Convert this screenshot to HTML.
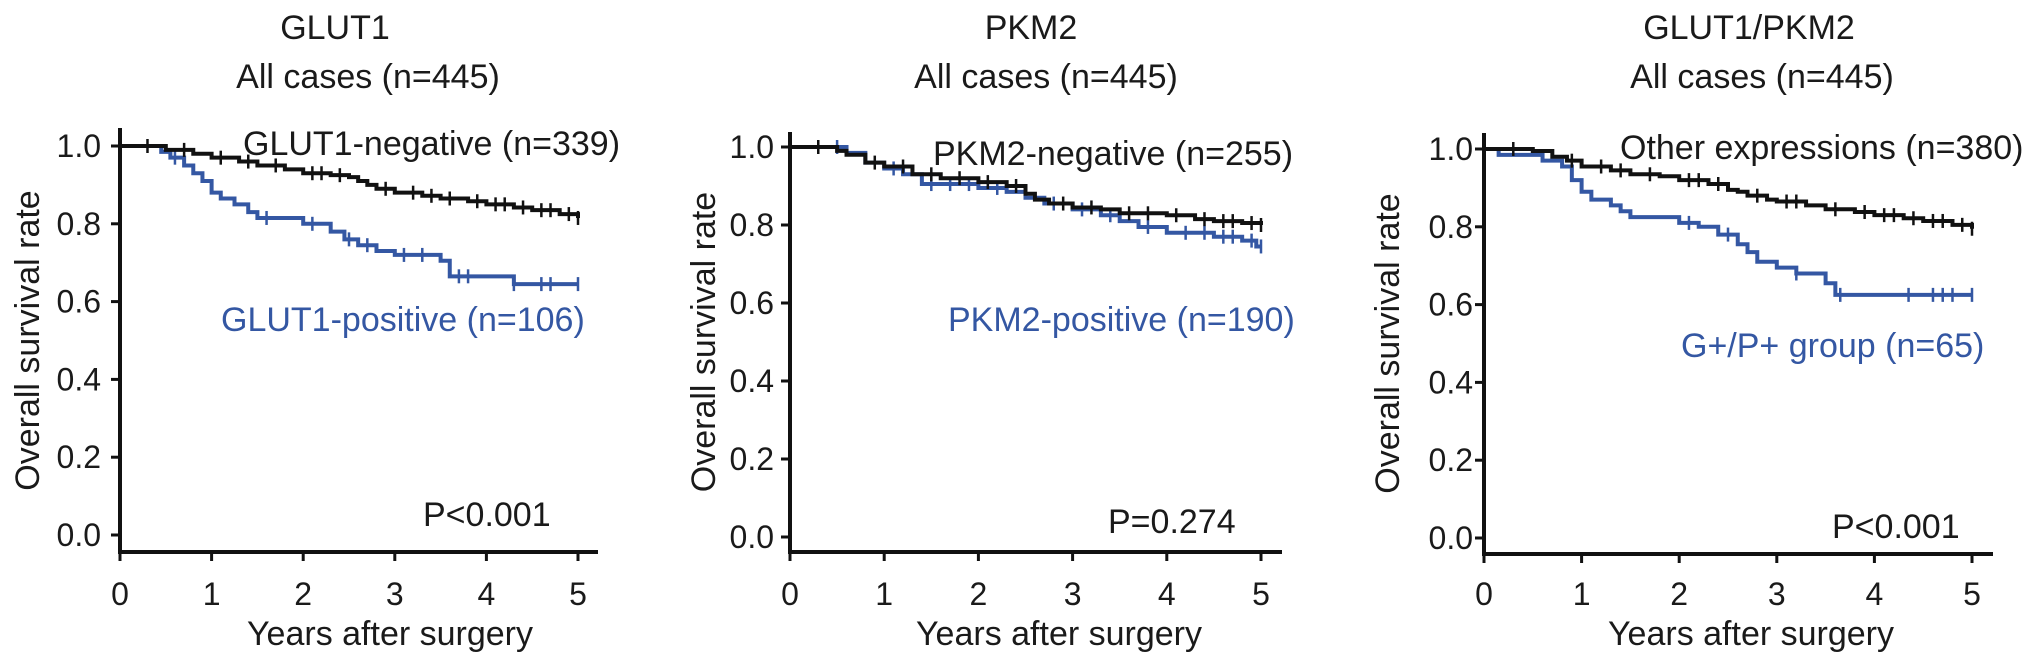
<!DOCTYPE html>
<html><head><meta charset="utf-8"><style>
html,body{margin:0;padding:0;background:#fff;}
svg{display:block;font-family:"Liberation Sans",Arial,sans-serif;}
</style></head><body>
<svg id="fig" width="2032" height="667" viewBox="0 0 2032 667" xmlns="http://www.w3.org/2000/svg"></svg>
<script>
const xTicks=[0,1,2,3,4,5];
const yTicks=[0,0.2,0.4,0.6,0.8,1.0];
const yTickLabels=["0.0","0.2","0.4","0.6","0.8","1.0"];
// Panel 1 GLUT1
const p1NegT=[0.5,0.8,1.0,1.3,1.5,1.8,2.0,2.3,2.5,2.6,2.7,2.8,3.0,3.3,3.5,3.8,4.0,4.3,4.5,4.8,5.0];
const p1NegS=[0.99,0.98,0.97,0.96,0.95,0.94,0.93,0.925,0.92,0.91,0.90,0.89,0.88,0.872,0.865,0.858,0.85,0.842,0.835,0.825,0.815];
const p1NegC=[0.3,0.7,1.1,1.4,1.7,2.1,2.2,2.4,2.9,3.2,3.4,3.6,3.9,4.1,4.2,4.4,4.6,4.7,4.9,5.0];
const p1PosT=[0.45,0.55,0.7,0.8,0.9,1.0,1.1,1.25,1.4,1.5,2.0,2.3,2.45,2.6,2.8,3.0,3.5,3.6,4.3];
const p1PosS=[0.985,0.97,0.95,0.93,0.91,0.88,0.865,0.85,0.83,0.815,0.80,0.78,0.76,0.745,0.73,0.72,0.705,0.665,0.645];
const p1PosC=[0.6,1.6,2.1,2.5,2.7,3.1,3.3,3.7,3.8,4.3,4.6,4.7,5.0];
// Panel 2 PKM2
const p2NegT=[0.5,0.6,0.8,1.0,1.3,1.6,2.0,2.3,2.5,2.6,2.75,3.0,3.3,3.5,4.0,4.3,4.5,4.8,5.0];
const p2NegS=[0.99,0.98,0.96,0.95,0.93,0.92,0.91,0.90,0.88,0.865,0.855,0.845,0.84,0.83,0.825,0.815,0.81,0.805,0.80];
const p2NegC=[0.3,0.9,1.2,1.5,1.8,2.1,2.4,2.9,3.2,3.6,3.8,4.1,4.4,4.6,4.7,4.9,5.0];
const p2PosT=[0.6,0.8,1.0,1.2,1.4,2.0,2.3,2.5,2.7,3.0,3.3,3.5,3.7,4.0,4.5,4.8,4.95];
const p2PosS=[0.985,0.96,0.945,0.93,0.905,0.895,0.885,0.87,0.855,0.84,0.825,0.81,0.795,0.78,0.77,0.76,0.745];
const p2PosC=[0.5,1.1,1.5,1.7,1.9,2.2,2.8,3.1,3.4,3.8,4.2,4.4,4.6,4.7,4.9,5.0];
// Panel 3 GLUT1/PKM2
const p3OthT=[0.5,0.7,0.85,1.0,1.3,1.5,1.8,2.0,2.3,2.5,2.6,2.7,2.9,3.0,3.3,3.5,3.8,4.0,4.3,4.5,4.8,5.0];
const p3OthS=[0.995,0.98,0.97,0.955,0.945,0.935,0.93,0.92,0.91,0.895,0.89,0.88,0.87,0.865,0.855,0.845,0.838,0.83,0.822,0.815,0.805,0.795];
const p3OthC=[0.3,0.9,1.2,1.4,1.7,2.1,2.2,2.4,2.8,3.1,3.2,3.6,3.9,4.1,4.2,4.4,4.6,4.7,4.9,5.0];
const p3GPT=[0.15,0.6,0.8,0.9,1.0,1.1,1.3,1.4,1.5,2.0,2.2,2.4,2.6,2.7,2.8,3.0,3.2,3.5,3.6];
const p3GPS=[0.985,0.97,0.955,0.92,0.89,0.87,0.855,0.84,0.825,0.81,0.80,0.78,0.755,0.735,0.71,0.695,0.68,0.655,0.625];
const p3GPC=[2.1,2.5,3.2,3.65,4.35,4.6,4.7,4.8,5.0];

const NS="http://www.w3.org/2000/svg";
const svg=document.getElementById('fig');
function mk(tag,attrs,parent){const e=document.createElementNS(NS,tag);for(const k in attrs)e.setAttribute(k,attrs[k]);(parent||svg).appendChild(e);return e;}
function txt(x,y,s,opts,parent){const e=mk('text',Object.assign({x:x,y:y,'font-size':34,fill:'#1a1a1a'},opts||{}),parent);e.textContent=s;return e;}
function stepVal(T,S,t){let v=1;for(let i=0;i<T.length;i++){if(T[i]<=t)v=S[i];}return v;}

const panels=[
 {id:'glut1',x0:120,x5:578,xr:598,ytop:128,y1:146,y0:535,ax:552,
  title:'GLUT1',tx:335,sub:'All cases (n=445)',sx:368,
  neg:[p1NegT,p1NegS,p1NegC],pos:[p1PosT,p1PosS,p1PosC],
  negLab:'GLUT1-negative (n=339)',nlx:243,nly:155,posLab:'GLUT1-positive (n=106)',plx:221,ply:331,
  p:'P<0.001',px:423,py:526,ylx:28,yrx:101,xlc:390},
 {id:'pkm2',x0:790,x5:1261,xr:1282,ytop:132,y1:147,y0:537,ax:552,
  title:'PKM2',tx:1031,sub:'All cases (n=445)',sx:1046,
  neg:[p2NegT,p2NegS,p2NegC],pos:[p2PosT,p2PosS,p2PosC],
  negLab:'PKM2-negative (n=255)',nlx:933,nly:165,posLab:'PKM2-positive (n=190)',plx:948,ply:331,
  p:'P=0.274',px:1108,py:533,ylx:704,yrx:774,xlc:1059},
 {id:'glut1-pkm2',x0:1484,x5:1972,xr:1993,ytop:133,y1:149,y0:538,ax:554,
  title:'GLUT1/PKM2',tx:1749,sub:'All cases (n=445)',sx:1762,
  neg:[p3OthT,p3OthS,p3OthC],pos:[p3GPT,p3GPS,p3GPC],
  negLab:'Other expressions (n=380)',nlx:1620,nly:159,posLab:'G+/P+ group (n=65)',plx:1681,ply:357,
  p:'P<0.001',px:1832,py:538,ylx:1388,yrx:1473,xlc:1751}
];

panels.forEach(P=>{
  const g=mk('g',{});
  
  
  const X=t=>P.x0+(P.x5-P.x0)*t/5;
  const Y=v=>P.y0+(P.y1-P.y0)*v;
  let t1=txt(P.tx,39,P.title,{'text-anchor':'middle','font-size':34},g);
  
  
  let t2=txt(P.sx,88,P.sub,{'text-anchor':'middle','font-size':34},g);
  
  
  let ya=mk('line',{x1:P.x0,y1:P.ytop,x2:P.x0,y2:P.ax+2,stroke:'#111','stroke-width':4},g);
  
  
  let xa=mk('line',{x1:P.x0-2,y1:P.ax,x2:P.xr,y2:P.ax,stroke:'#111','stroke-width':4},g);
  
  
  yTicks.forEach((v,i)=>{
    mk('line',{x1:P.x0-9,y1:Y(v),x2:P.x0,y2:Y(v),stroke:'#111','stroke-width':3},g);
    let l=txt(P.yrx,Y(v)+11,yTickLabels[i],{'text-anchor':'end','font-size':32},g);
    
    
  });
  xTicks.forEach(t=>{
    mk('line',{x1:X(t),y1:P.ax,x2:X(t),y2:P.ax+9,stroke:'#111','stroke-width':3},g);
    let l=txt(X(t),605,String(t),{'text-anchor':'middle','font-size':32},g);
    
    
  });
  let yl=txt(0,0,'Overall survival rate',{'text-anchor':'middle',transform:`translate(${P.ylx+11},${(P.y1+P.y0)/2}) rotate(-90)`},g);
  
  
  let xl=txt(P.xlc,645,'Years after surgery',{'text-anchor':'middle'},g);
  
  
  function curve(D,color,name){
    const [T,S,C]=D;
    let d=`M${X(0)},${Y(1)}`;
    for(let i=0;i<T.length;i++){d+=` H${X(T[i])} V${Y(S[i])}`;}
    d+=` H${X(5)}`;
    const p=mk('path',{d:d,fill:'none',stroke:color,'stroke-width':4},g);
    
    
    C.forEach(t=>{
      const yv=Y(stepVal(T,S,t));
      const c=mk('line',{x1:X(t),y1:yv-7,x2:X(t),y2:yv+7,stroke:color,'stroke-width':2.5},g);
      
      
    });
  }
  curve(P.pos,'#3457a3','positive-curve');
  curve(P.neg,'#111','negative-curve');
  let nl=txt(P.nlx,P.nly,P.negLab,{},g);
  
  
  let pl=txt(P.plx,P.ply,P.posLab,{fill:'#3457a3'},g);
  
  
  let pv=txt(P.px,P.py,P.p,{},g);
  
  
});
</script>
</body></html>
